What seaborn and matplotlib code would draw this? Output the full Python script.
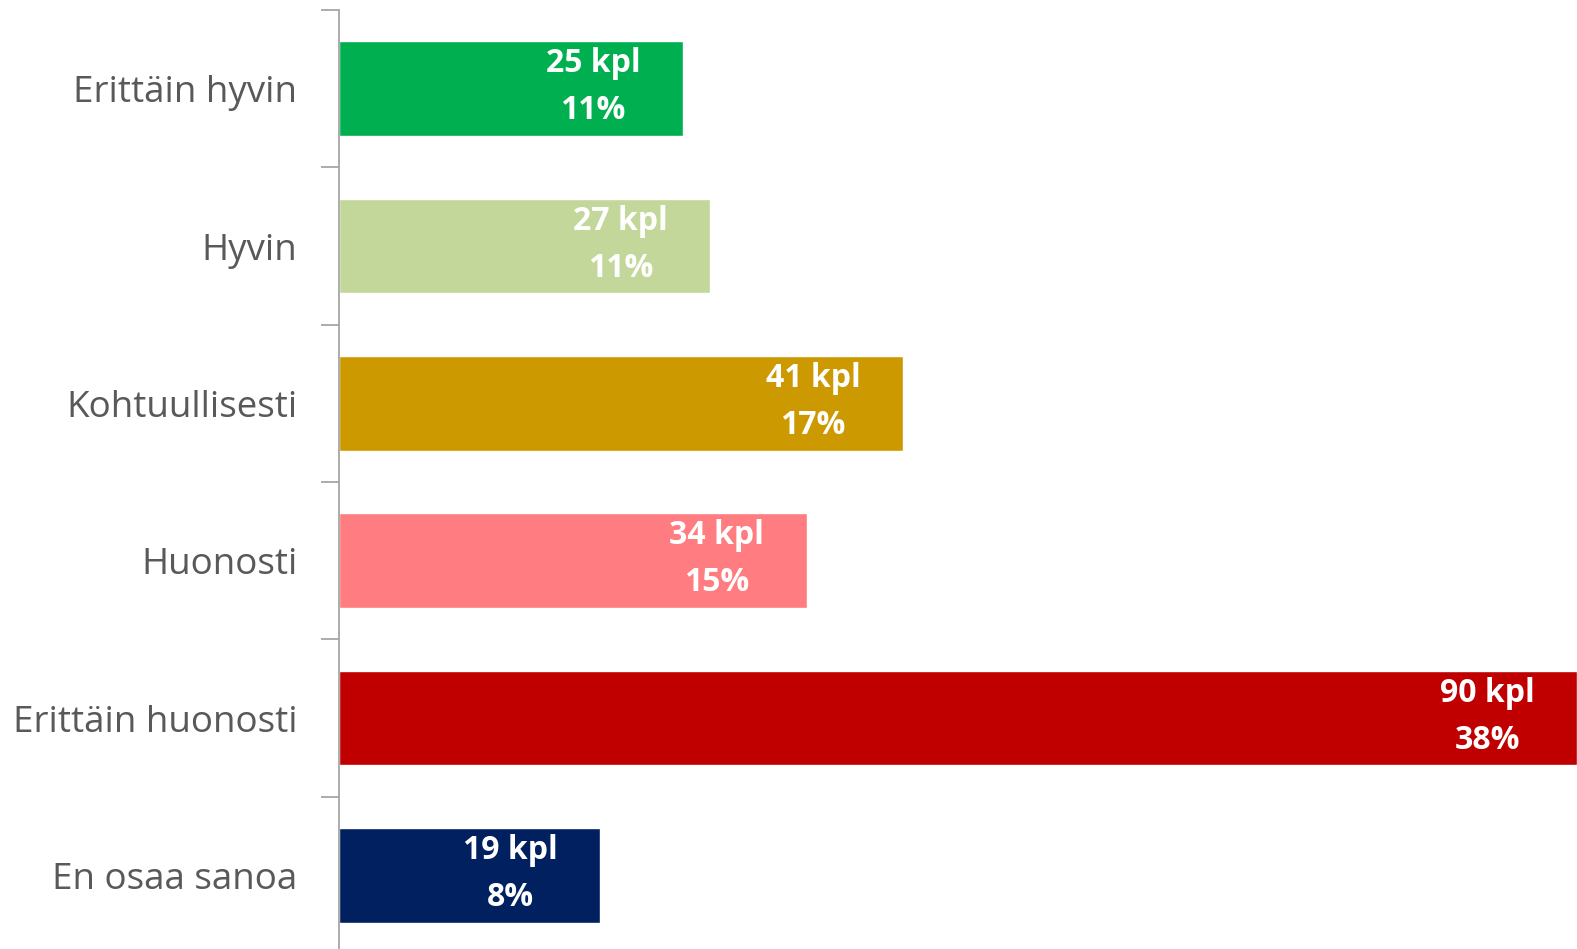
import matplotlib
matplotlib.use("Agg")
import matplotlib.pyplot as plt
import seaborn as sns
import pandas as pd
from matplotlib.ticker import FixedLocator

categories = ["Erittäin hyvin", "Hyvin", "Kohtuullisesti", "Huonosti",
              "Erittäin huonosti", "En osaa sanoa"]
counts = [25, 27, 41, 34, 90, 19]
percents = [11, 11, 17, 15, 38, 8]
colors = ["#00B050", "#C4D79B", "#CC9900", "#FF7C80", "#C00000", "#002060"]

df = pd.DataFrame({"cat": categories, "n": counts})

sns.set_style("white")
plt.rcParams["font.family"] = ["Open Sans", "DejaVu Sans"]

fig = plt.figure(figsize=(15.77, 9.49), dpi=100)
ax = fig.add_axes([339 / 1577, -5 / 949, 1 - 339 / 1577, 944 / 949])

sns.barplot(data=df, x="n", y="cat", hue="cat", palette=colors,
            orient="h", width=0.6, legend=False, ax=ax, saturation=1)

ax.set_xlim(0, 90)
ax.set_ylim(5.5, -0.5)
ax.set_xlabel("")
ax.set_ylabel("")
ax.set_xticks([])

for s in ["top", "right", "bottom"]:
    ax.spines[s].set_visible(False)
ax.spines["left"].set_color("#A6A6A6")
ax.spines["left"].set_linewidth(1.3)

ax.tick_params(axis="y", which="major", length=0, pad=30,
               labelsize=26.5, labelcolor="#595959")
ax.yaxis.set_minor_locator(FixedLocator([i - 0.5 for i in range(7)]))
ax.tick_params(axis="y", which="minor", left=True, length=13, width=1.3,
               color="#A6A6A6")

for i, (n, p) in enumerate(zip(counts, percents)):
    ax.annotate(f"{n} kpl", (n, i), xytext=(-90, 25), textcoords="offset pixels",
                ha="center", va="center", color="white", fontsize=23,
                fontweight="bold")
    ax.annotate(f"{p}%", (n, i), xytext=(-90, -22), textcoords="offset pixels",
                ha="center", va="center", color="white", fontsize=23,
                fontweight="bold")

fig.savefig("out.png", dpi=100)
